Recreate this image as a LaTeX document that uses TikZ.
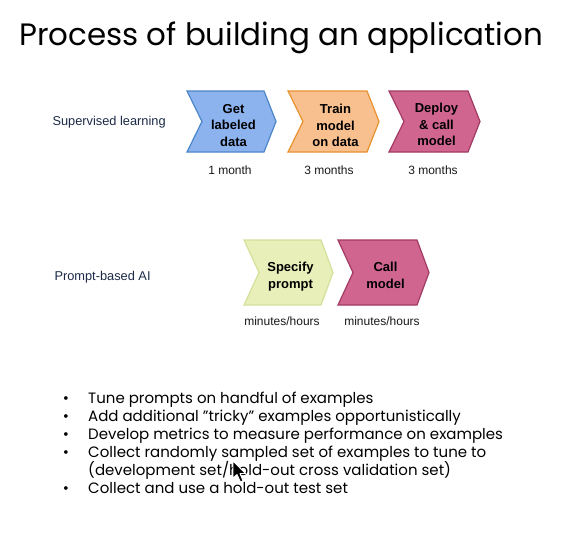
\documentclass[tikz,border=0pt]{standalone}
\usepackage{fontspec}
\setmainfont{Liberation Sans}
\newfontfamily\popfont{Poppins}
\usetikzlibrary{calc}

\definecolor{inkblue}{HTML}{1C2A48}
\definecolor{bluefill}{HTML}{8DB3EF}
\definecolor{blueline}{HTML}{4A86C8}
\definecolor{orangefill}{HTML}{F8C08E}
\definecolor{orangeline}{HTML}{E8912F}
\definecolor{pinkfill}{HTML}{D0658F}
\definecolor{pinkline}{HTML}{A23A63}
\definecolor{greenfill}{HTML}{E8EFB9}
\definecolor{greenline}{HTML}{D3E19B}

% chevron outline: name, left x, right x, top y, bottom y, style
% the named coordinate marks where the label sits
\newcommand\chevshape[6]{%
  \path[#6] (#2,#4) -- ({#3-12},#4) -- (#3,{(#4+#5)/2}) -- ({#3-12},#5)
    -- (#2,#5) -- ({#2+15},{(#4+#5)/2}) -- cycle;
  \coordinate (#1) at ({(#2+#3)/2+2},{(#4+#5)/2+4});
}

\tikzset{
  chevtext/.style={font=\bfseries\fontsize{13}{16.5}\selectfont, align=center, text=black},
  timetext/.style={font=\fontsize{12}{14}\selectfont, text=black!90},
  rowlabel/.style={font=\fontsize{12.8}{15}\selectfont, text=inkblue, anchor=west},
  bullettext/.style={font=\popfont\fontsize{15}{18}\selectfont, anchor=base west, inner sep=0pt},
  bulletdot/.style={font=\popfont\fontsize{15}{18}\selectfont, anchor=base, inner sep=0pt},
  chevline/.style={line width=1.2pt, line join=miter},
}

\begin{document}
\begin{tikzpicture}[x=1pt, y=-1pt]
  \useasboundingbox[fill=white] (0,0) rectangle (561,541);

  % title
  \node[font=\popfont\fontsize{30.9}{34}\selectfont, anchor=base west, inner sep=0pt]
    (title) at (19,45) {Process of building an application};

  % supervised learning row
  \node[rowlabel] (sup) at (49,122) {Supervised learning};
  \chevshape{cget}{187}{276}{91}{152}{chevline, fill=bluefill, draw=blueline}
  \chevshape{ctrain}{288}{379}{91}{152}{chevline, fill=orangefill, draw=orangeline}
  \chevshape{cdeploy}{389}{480}{91}{152}{chevline, fill=pinkfill, draw=pinkline}
  \node[chevtext] (get) at (cget) {Get\\labeled\\data};
  \node[chevtext] (train) at (ctrain) {Train\\model\\on data};
  \node[chevtext] (deploy) at ($(cdeploy)+(0,-1)$) {Deploy\\\& call\\model};
  \node[timetext] (t1) at (230,170) {1 month};
  \node[timetext] (t2) at (329,170) {3 months};
  \node[timetext] (t3) at (433,170) {3 months};

  % prompt-based row
  \node[rowlabel] (pba) at (51,277) {Prompt-based AI};
  \chevshape{cspec}{244}{333}{240}{305}{chevline, fill=greenfill, draw=greenline}
  \chevshape{ccall}{338}{429}{240}{305}{chevline, fill=pinkfill, draw=pinkline}
  \node[chevtext] (spec) at (cspec) {Specify\\prompt};
  \node[chevtext] (call) at ($(ccall)+(0,-1)$) {Call\\model};
  \node[timetext] (t4) at (282,321) {minutes/hours};
  \node[timetext] (t5) at (382,321) {minutes/hours};

  % bullet list
  \foreach \y/\nm/\txt in {
      403/b1/{Tune prompts on handful of examples},
      421/b2/{Add additional ”tricky” examples opportunistically},
      439/b3/{Develop metrics to measure performance on examples},
      457/b4/{Collect randomly sampled set of examples to tune to},
      493/b6/{Collect and use a hold-out test set}} {
    \node[bulletdot] (\nm dot) at (66,\y) {•};
    \node[bullettext] (\nm) at (88,\y) {\txt};
  }
  \node[bullettext] (b5) at (88,475) {(development set/hold-out cross validation set)};

  % mouse pointer
  \path[fill=black, draw=white, line width=0.9pt, line join=round]
    (233,461) -- (233,478) -- (237,474.5) -- (240.5,482) -- (243,481)
    -- (240,473.5) -- (245.5,473.5) -- cycle;
\end{tikzpicture}
\end{document}
